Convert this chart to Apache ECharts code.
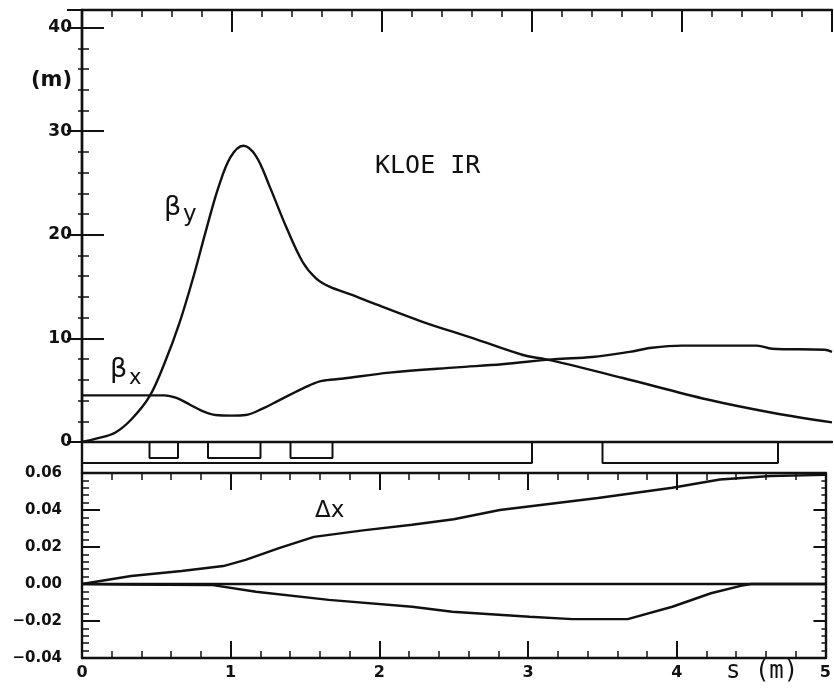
<!DOCTYPE html>
<html>
<head>
<meta charset="utf-8">
<script src="https://cdn.jsdelivr.net/npm/echarts@6/dist/echarts.min.js"></script>
<style>
  html, body { margin: 0; padding: 0; background: #fff; }
  #chart { width: 834px; height: 693px; }
</style>
</head>
<body>
<div id="chart"></div>
<script>
// beta functions (m) vs s (m)
var sBetaY = [0, 0.1, 0.22, 0.33, 0.45, 0.55, 0.65, 0.74, 0.83, 0.91, 0.99, 1.075, 1.16, 1.25, 1.36, 1.47, 1.56, 1.65, 1.8, 1.94, 2.27, 2.61, 2.94, 3.12, 3.6, 4.17, 4.61, 5.0]
var betaY = [0, 0.35, 0.9, 2.2, 4.4, 7.6, 11.5, 15.8, 20.6, 24.6, 27.5, 28.6, 27.6, 24.7, 20.8, 17.4, 15.8, 15.0, 14.2, 13.4, 11.6, 10.0, 8.4, 7.9, 6.2, 4.1, 2.8, 1.9]
var sBetaX = [0, 0.3, 0.55, 0.63, 0.72, 0.8, 0.89, 1.0, 1.09, 1.2, 1.31, 1.42, 1.52, 1.6, 1.73, 2.05, 2.5, 2.8, 3.15, 3.4, 3.65, 3.8, 4.0, 4.5, 4.6, 4.95, 5.0]
var betaX = [4.5, 4.5, 4.5, 4.25, 3.6, 3.0, 2.6, 2.55, 2.6, 3.2, 4.0, 4.8, 5.5, 5.9, 6.1, 6.7, 7.2, 7.5, 8.0, 8.2, 8.7, 9.1, 9.3, 9.3, 9.0, 8.9, 8.7]

// orbit displacement
var sDxUp = [0, 0.33, 0.67, 0.95, 1.1, 1.33, 1.56, 1.89, 2.22, 2.5, 2.81, 3.47, 3.97, 4.29, 4.63, 5.0]
var dxUp = [0, 0.0043, 0.007, 0.0097, 0.013, 0.0195, 0.0255, 0.029, 0.032, 0.035, 0.040, 0.0465, 0.052, 0.0565, 0.0584, 0.059]
var sDxDown = [0, 0.28, 0.87, 1.17, 1.66, 2.22, 2.49, 3.01, 3.3, 3.67, 3.97, 4.23, 4.43, 4.5, 5.0]
var dxDown = [0, -0.0003, -0.0005, -0.0042, -0.0086, -0.0123, -0.015, -0.0177, -0.019, -0.019, -0.0123, -0.005, -0.001, 0, 0]

// lattice elements: start, end, depth
var elemStart = [0.45, 0.84, 1.39, 0, 3.47]
var elemEnd = [0.64, 1.19, 1.67, 3.0, 4.64]
var elemDepth = [0.52, 0.52, 0.52, 0.68, 0.68]

var xTickLabels = ['0', '1', '2', '3', '4', '5']
var topTickLabels = ['0', '10', '20', '30', '40']
var lowTickLabels = ['−0.04', '−0.02', '0.00', '0.02', '0.04', '0.06']

function pairs(xs, ys) {
  return xs.map(function (x, i) { return [x, ys[i]] })
}

var ink = '#111'
var lw = 2.4
var labelFont = { color: ink, fontFamily: 'DejaVu Sans', fontWeight: 'bold' }

var chart = echarts.init(document.getElementById('chart'))

var latticeSeries = elemStart.map(function (s0, i) {
  var d = -elemDepth[i]
  return {
    type: 'line', xAxisIndex: 2, yAxisIndex: 2, symbol: 'none', silent: true,
    lineStyle: { color: ink, width: 2 },
    data: [[s0, 0], [s0, d], [elemEnd[i], d], [elemEnd[i], 0]]
  }
})

function xAx(grid, pos, opts) {
  return Object.assign({
    type: 'value', gridIndex: grid, position: pos, min: 0, max: 5, interval: 1,
    axisLine: { show: true, onZero: false, lineStyle: { color: ink, width: lw } },
    axisTick: { show: true, inside: true, length: 17, lineStyle: { color: ink, width: 2 } },
    minorTick: { show: true, splitNumber: 5, length: 7, lineStyle: { color: ink, width: 1.5 } },
    axisLabel: { show: false },
    splitLine: { show: false }
  }, opts || {})
}

chart.setOption({
  animation: false,
  backgroundColor: '#fff',
  grid: [
    { left: 82, right: 2, top: 10, height: 432 },
    { left: 82, right: 2, top: 473, height: 185 },
    { left: 82, right: 2, top: 442, height: 31 }
  ],
  xAxis: [
    xAx(0, 'bottom', { axisTick: { show: false }, minorTick: { show: false } }),
    xAx(0, 'top', { axisTick: { show: true, inside: true, length: 22, lineStyle: { color: ink, width: 2 } } }),
    xAx(2, 'bottom', { axisLine: { show: false }, axisTick: { show: false }, minorTick: { show: false } }),
    xAx(1, 'top'),
    xAx(1, 'bottom', {
      axisLabel: Object.assign({ show: true, fontSize: 16, margin: 7,
        formatter: function (v) { return xTickLabels[Math.round(v)] } }, labelFont)
    })
  ],
  yAxis: [
    {
      type: 'value', gridIndex: 0, position: 'left', min: 0, max: 41.7, interval: 10,
      axisLine: { show: true, lineStyle: { color: ink, width: lw } },
      axisTick: { show: true, inside: true, length: 22, lineStyle: { color: ink, width: 2 } },
      minorTick: { show: true, splitNumber: 5, length: 7, lineStyle: { color: ink, width: 1.5 } },
      axisLabel: Object.assign({ fontSize: 17, margin: 10, showMaxLabel: false,
        formatter: function (v) { return v % 10 === 0 ? topTickLabels[v / 10] : '' } }, labelFont),
      splitLine: { show: false }
    },
    {
      type: 'value', gridIndex: 1, position: 'left', min: -0.04, max: 0.06, interval: 0.02,
      axisLine: { show: true, onZero: false, lineStyle: { color: ink, width: lw } },
      axisTick: { show: true, inside: true, length: 18, lineStyle: { color: ink, width: 2 } },
      minorTick: { show: true, splitNumber: 5, length: 7, lineStyle: { color: ink, width: 1.5 } },
      axisLabel: Object.assign({ fontSize: 15, margin: 20,
        formatter: function (v) { return lowTickLabels[Math.round((v + 0.04) / 0.02)] } }, labelFont),
      splitLine: { show: false }
    },
    {
      type: 'value', gridIndex: 2, min: -1, max: 0,
      axisLine: { show: true, lineStyle: { color: ink, width: lw } },
      axisTick: { show: false }, axisLabel: { show: false }, splitLine: { show: false }
    },
    {
      type: 'value', gridIndex: 0, position: 'right', min: 0, max: 41.7, interval: 10,
      axisLine: { show: true, lineStyle: { color: ink, width: lw } },
      axisTick: { show: true, inside: true, length: 15, lineStyle: { color: ink, width: 2 } },
      minorTick: { show: true, splitNumber: 5, length: 4, lineStyle: { color: ink, width: 1.5 } },
      axisLabel: { show: false }, splitLine: { show: false }
    },
    {
      type: 'value', gridIndex: 1, position: 'right', min: -0.04, max: 0.06, interval: 0.02,
      axisLine: { show: true, onZero: false, lineStyle: { color: ink, width: lw } },
      axisTick: { show: true, inside: true, length: 12, lineStyle: { color: ink, width: 2 } },
      minorTick: { show: true, splitNumber: 5, length: 4, lineStyle: { color: ink, width: 1.5 } },
      axisLabel: { show: false }, splitLine: { show: false }
    }
  ],
  series: [
    {
      name: 'βy', type: 'line', xAxisIndex: 0, yAxisIndex: 0, symbol: 'none', smooth: 0.35,
      lineStyle: { color: ink, width: lw }, data: pairs(sBetaY, betaY)
    },
    {
      name: 'βx', type: 'line', xAxisIndex: 0, yAxisIndex: 0, symbol: 'none', smooth: 0.35,
      lineStyle: { color: ink, width: lw }, data: pairs(sBetaX, betaX)
    },
    {
      name: 'Δx', type: 'line', xAxisIndex: 4, yAxisIndex: 1, symbol: 'none',
      lineStyle: { color: ink, width: lw }, data: pairs(sDxUp, dxUp),
      markLine: {
        silent: true, symbol: 'none', label: { show: false },
        lineStyle: { color: ink, width: lw, type: 'solid' },
        data: [{ yAxis: 0 }]
      }
    },
    {
      name: 'Δx2', type: 'line', xAxisIndex: 4, yAxisIndex: 1, symbol: 'none',
      lineStyle: { color: ink, width: lw }, data: pairs(sDxDown, dxDown)
    }
  ].concat(latticeSeries),
  graphic: [
    { type: 'text', left: 31, top: 70, style: { text: '(m)', font: 'bold 21px "DejaVu Sans"', fill: ink } },
    { type: 'text', left: 375, top: 154, style: { text: 'KLOE IR', font: '25px "DejaVu Sans Mono"', fill: ink } },
    { type: 'text', left: 164, top: 194, style: { text: 'β', font: '27px "DejaVu Sans"', fill: ink } },
    { type: 'text', left: 183, top: 204, style: { text: 'y', font: '23px "DejaVu Sans"', fill: ink } },
    { type: 'text', left: 110, top: 356, style: { text: 'β', font: '27px "DejaVu Sans"', fill: ink } },
    { type: 'text', left: 129, top: 368, style: { text: 'x', font: '21px "DejaVu Sans"', fill: ink } },
    { type: 'text', left: 315, top: 500, style: { text: 'Δx', font: '23px "DejaVu Sans"', fill: ink } },
    { type: 'text', left: 726, top: 660, style: { text: 's (m)', font: '24px "DejaVu Sans Mono"', fill: ink } }
  ]
})
</script>
</body>
</html>
